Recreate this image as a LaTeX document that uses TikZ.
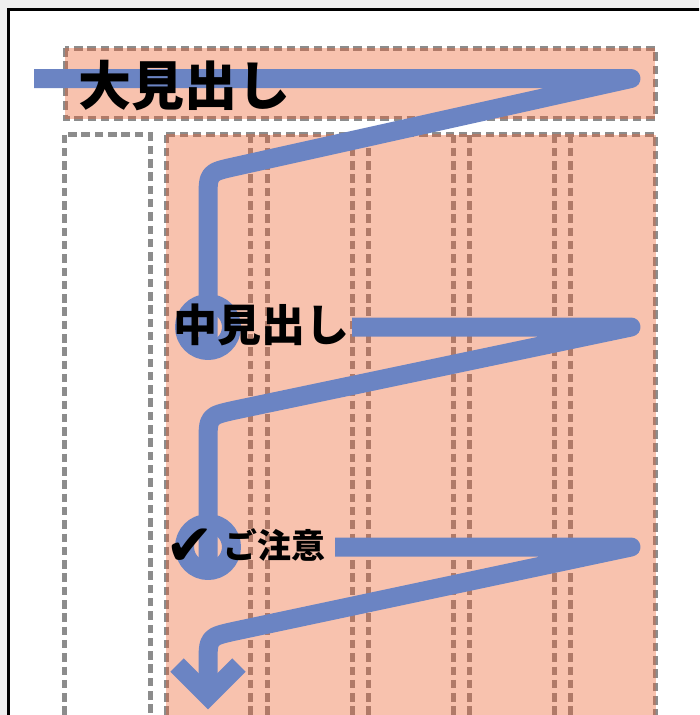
\documentclass[tikz,border=0pt]{standalone}
\usepackage{fontspec}
\newfontfamily\jp{Noto Sans CJK JP}
\newfontfamily\dv{DejaVu Sans}
\definecolor{salmonfill}{HTML}{F8C2AE}
\definecolor{dashbrown}{HTML}{B07A68}
\definecolor{dashgray}{HTML}{8C8C8C}
\definecolor{flowblue}{HTML}{6B84C3}
\definecolor{outsidegray}{HTML}{EFEFEF}
\tikzset{
  dashline/.style={line width=5pt, dash pattern=on 8.5pt off 4.8pt},
  flow/.style={draw=flowblue, line width=19pt, line join=round},
  jptext/.style={inner sep=0pt, text=black},
}
\newcommand{\salmonbox}[2]{%
  \fill[salmonfill] #1 rectangle #2;
  \draw[dashline, dashgray] #1 rectangle #2;
  \begin{scope}
    \clip #1 rectangle #2;
    \draw[dashline, dashbrown] #1 rectangle #2;
  \end{scope}
}
\begin{document}
\begin{tikzpicture}[x=1pt,y=-1pt]
\useasboundingbox (0,0) rectangle (699,715);
\clip (0,0) rectangle (699,715);
% page background and frame
\fill[outsidegray] (0,0) rectangle (699,715);
\fill[white] (8.7,9.5) rectangle (705,720);
\draw[line width=2.8pt, black] (8.7,720) -- (8.7,9.5) -- (705,9.5);
% layout boxes
\salmonbox{(65,48)}{(655,118.5)}
\draw[dashline, dashgray] (64.5,134.5) rectangle (150,740);
\salmonbox{(166,134.5)}{(655.5,740)}
\foreach \x in {250,267,352,368,453,469,554,570}
  \draw[dashline, dashbrown] (\x,134.5) -- (\x,740);
% flow coordinates
\coordinate (s1) at (34,78.5);
\coordinate (t1) at (631,78.5);
\coordinate (a1) at (235.3,166.5);
\coordinate (k1) at (208,172.5);
\coordinate (b1) at (208,200);
\coordinate (r1) at (208,327);
\coordinate (s2) at (352,327);
\coordinate (t2) at (631,327);
\coordinate (a2) at (235.3,410);
\coordinate (k2) at (208,416);
\coordinate (b2) at (208,444);
\coordinate (r2) at (208,547);
\coordinate (s3) at (335,547);
\coordinate (t3) at (631,547);
\coordinate (a3) at (235.3,631);
\coordinate (k3) at (208,637);
\coordinate (b3) at (208,665);
\coordinate (tip) at (208,696);
\coordinate (al) at (177,665);
\coordinate (ar) at (239,665);
% flow paths
\draw[flow] (s1) -- (t1) -- (a1) .. controls (k1) .. (b1) -- ([yshift=-23.5pt]r1);
\draw[flow] (r1) circle (23.5pt);
\draw[flow] (s2) -- (t2) -- (a2) .. controls (k2) .. (b2) -- ([yshift=-23.5pt]r2);
\draw[flow] (r2) circle (23.5pt);
\draw[flow] (s3) -- (t3) -- (a3) .. controls (k3) .. (b3) -- (tip);
\draw[flow, line join=miter] (al) -- (tip) -- (ar);
% texts
\node[jptext, anchor=west, font=\jp\bfseries\fontsize{53}{53}\selectfont] (big) at (78,86) {大見出し};
\node[jptext, anchor=west, font=\jp\bfseries\fontsize{44}{44}\selectfont] (mid) at (173,325) {中見出し};
\node[jptext, anchor=center, font=\dv\bfseries\fontsize{58}{58}\selectfont] (chk) at (190,547) {✔};
\node[jptext, anchor=west, font=\jp\bfseries\fontsize{34}{34}\selectfont] (note) at (223,545) {ご注意};
\end{tikzpicture}
\end{document}
